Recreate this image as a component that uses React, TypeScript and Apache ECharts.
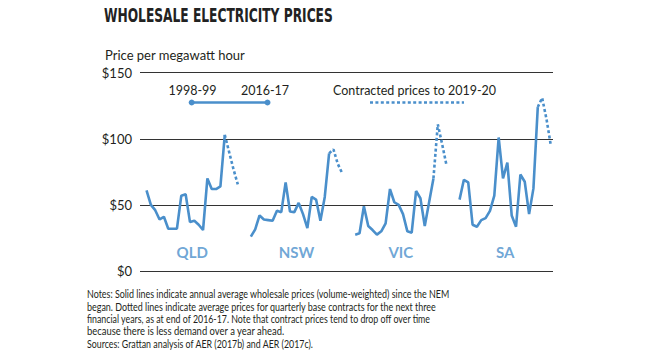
import React, { useEffect, useRef } from "react";
import * as echarts from "echarts";

const regions = ["QLD", "NSW", "VIC", "SA"];
const qldSolid = [61, 50, 46, 39, 41, 32, 32, 32, 57, 58, 37, 38, 35, 31, 70, 62, 62, 64, 103];
const qldContract = [90, 77, 65.5];
const nswSolid = [26, 31.5, 42, 39, 38.5, 38, 45.5, 44.5, 67, 45, 44.5, 51.5, 43, 32.5, 56, 54, 38, 56, 89];
const nswContract = [92, 81, 74];
const vicSolid = [27.5, 28.5, 49, 34, 31, 27.5, 30, 36, 62, 52, 50, 43, 30, 29, 60.5, 55, 34, 52, 70];
const vicContract = [111, 96, 80];
const saSolid = [54, 69, 67, 35, 33.5, 38.5, 40, 45.5, 57, 101, 70, 82, 42, 33.5, 73, 67.5, 43, 62.5, 124];
const saContract = [131, 115, 95];
const yTicks = [0, 50, 100, 150];

const solids = [qldSolid, nswSolid, vicSolid, saSolid];
const contracts = [qldContract, nswContract, vicContract, saContract];
const SLOTS = 24;

const BLUE = "#4a8fcb";
const TEXT = "#231f20";
const BODY_FONT = "Lato, 'Noto Sans', sans-serif";

const notes = [
  "Notes: Solid lines indicate annual average wholesale prices (volume-weighted) since the NEM",
  "began. Dotted lines indicate average prices for quarterly base contracts for the next three",
  "financial years, as at end of 2016-17. Note that contract prices tend to drop off over time",
  "because there is less demand over a year ahead.",
  "Sources: Grattan analysis of AER (2017b) and AER (2017c).",
];
const noteWidths = [363, 350, 344, 198, 227];

function measure(text: string, font: string): number {
  const c = document.createElement("canvas");
  const ctx = c.getContext("2d");
  if (!ctx) return 1;
  ctx.font = font;
  return ctx.measureText(text).width || 1;
}

export default function App() {
  const ref = useRef<HTMLDivElement>(null);
  useEffect(() => {
    if (!ref.current) return;
    const chart = echarts.init(ref.current, undefined, { renderer: "svg" });

    const series: any[] = [];
    solids.forEach((vals, g) => {
      series.push({
        type: "line",
        data: vals.map((v, i) => [g * SLOTS + i, v]),
        showSymbol: false,
        symbol: "none",
        lineStyle: { color: BLUE, width: 2.6 },
        silent: true,
      });
      const last = vals[vals.length - 1];
      const c = contracts[g];
      series.push({
        type: "line",
        data: [[g * SLOTS + vals.length - 1, last]].concat(
          c.map((v, j) => [g * SLOTS + vals.length + j, v])
        ),
        showSymbol: false,
        symbol: "none",
        lineStyle: { color: BLUE, width: 2.6, type: [3, 2.4] },
        silent: true,
      });
    });
    series.push({
      type: "scatter",
      symbolSize: 0,
      data: regions.map((r, g) => ({ value: [g * SLOTS + 10.5, 14], name: r })),
      label: {
        show: true,
        position: "inside",
        formatter: (p: any) => p.name,
        color: BLUE,
        fontFamily: BODY_FONT,
        fontWeight: "bold",
        fontSize: 15,
      },
      silent: true,
    });

    const titleFont = "bold 20px 'Liberation Sans Narrow', 'DejaVu Sans Condensed', sans-serif";
    const titleScale = 229 / measure("WHOLESALE ELECTRICITY PRICES", titleFont);
    const noteFont = `11px ${BODY_FONT}`;

    const graphic: any[] = [
      {
        type: "text",
        x: 104,
        y: 5,
        scaleX: titleScale,
        style: {
          text: "WHOLESALE ELECTRICITY PRICES",
          font: titleFont,
          fill: "#222",
        },
      },
      {
        type: "text",
        x: 105,
        y: 48,
        style: {
          text: "Price per megawatt hour",
          font: `13px ${BODY_FONT}`,
          fill: TEXT,
        },
      },
      {
        type: "text",
        x: 192.5,
        y: 90,
        style: { text: "1998-99", font: `12.5px ${BODY_FONT}`, fill: TEXT, align: "center", verticalAlign: "middle" },
      },
      {
        type: "text",
        x: 265,
        y: 90,
        style: { text: "2016-17", font: `12.5px ${BODY_FONT}`, fill: TEXT, align: "center", verticalAlign: "middle" },
      },
      {
        type: "line",
        shape: { x1: 191.7, y1: 102.5, x2: 267.5, y2: 102.5 },
        style: { stroke: BLUE, lineWidth: 2.6 },
      },
      { type: "circle", shape: { cx: 191.7, cy: 102.5, r: 3 }, style: { fill: BLUE } },
      { type: "circle", shape: { cx: 267.5, cy: 102.5, r: 3 }, style: { fill: BLUE } },
      {
        type: "text",
        x: 333,
        y: 90,
        style: {
          text: "Contracted prices to 2019-20",
          font: `12.5px ${BODY_FONT}`,
          fill: TEXT,
          verticalAlign: "middle",
        },
      },
      {
        type: "line",
        shape: { x1: 370, y1: 102.5, x2: 464, y2: 102.5 },
        style: { stroke: BLUE, lineWidth: 2.6, lineDash: [3, 2.4] },
      },
    ];
    const noteY = [294, 306.3, 318.6, 330.9, 343.2];
    notes.forEach((t, i) => {
      const s = noteWidths[i] / measure(t, noteFont);
      graphic.push({
        type: "text",
        x: 87,
        y: noteY[i],
        scaleX: s,
        style: { text: t, font: noteFont, fill: TEXT, verticalAlign: "middle" },
      });
    });

    chart.setOption({
      animation: false,
      grid: { left: 140, right: 97, top: 72.7, bottom: 88, containLabel: false },
      xAxis: {
        type: "value",
        min: -1.5,
        max: 93.5,
        show: false,
      },
      yAxis: {
        type: "value",
        min: 0,
        max: 150,
        interval: 50,
        axisLine: { show: false },
        axisTick: { show: false },
        splitLine: { lineStyle: { color: "#333", width: 1 } },
        axisLabel: {
          margin: 8,
          color: TEXT,
          fontFamily: BODY_FONT,
          fontSize: 13,
          formatter: (v: number) => (yTicks.includes(v) ? "$" + v : ""),
        },
      },
      graphic,
      series,
    });
    return () => chart.dispose();
  }, []);
  return (
    <div
      ref={ref}
      style={{ position: "fixed", left: 0, top: 0, width: 650, height: 359, background: "#fff" }}
    />
  );
}
